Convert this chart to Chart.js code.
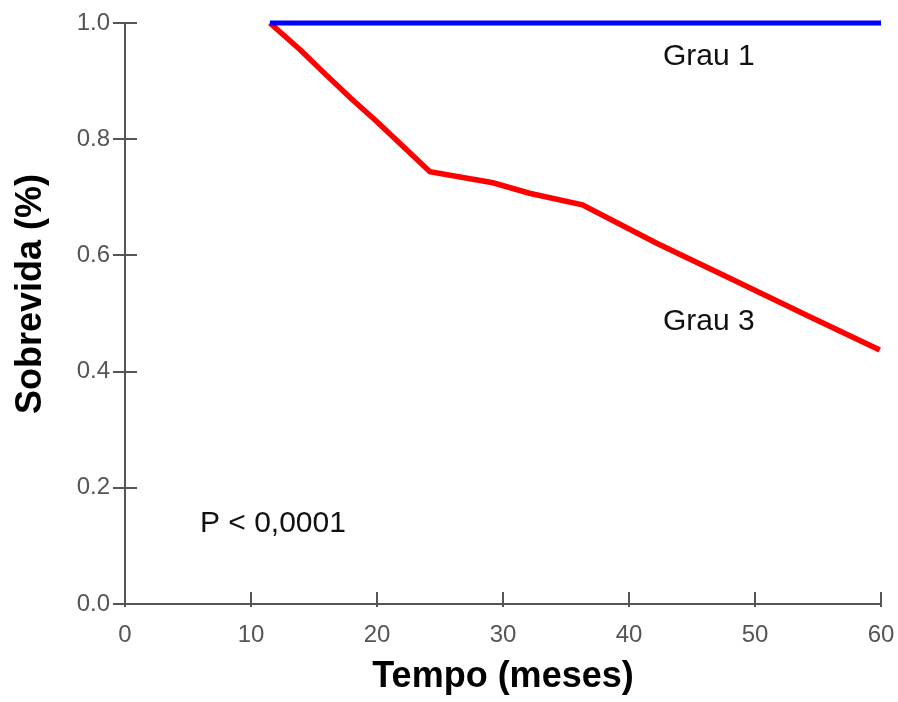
<!DOCTYPE html>
<html>
    <head>
        <title>Sobrevida por grau</title>
        <script src="https://cdn.jsdelivr.net/npm/chart.js"></script>
        <style>
            html, body {
                margin: 0;
                padding: 0;
                background: #fff;
            }
            #chart-container {
                width: 898px;
                height: 702px;
            }
        </style>
    </head>
    <body>
        <div id="chart-container">
            <canvas id="survivalChart"></canvas>
        </div>

        <script>
            // values
            const grau1Months = [11.5, 60];
            const grau1Survival = [1.0, 1.0];
            const grau3Months = [11.5, 13.9, 15.9, 17.9, 20.0, 22.1, 24.2, 29.2, 32.1, 36.3, 42.2, 47.8, 54.1, 59.9];
            const grau3Survival = [1.0, 0.954, 0.912, 0.871, 0.830, 0.787, 0.744, 0.725, 0.707, 0.687, 0.621, 0.563, 0.497, 0.437];
            const xTicks = [0, 10, 20, 30, 40, 50, 60];
            const yTicks = [0.0, 0.2, 0.4, 0.6, 0.8, 1.0];
            const notes = [
                { text: 'Grau 1', x: 42.7, y: 0.928 },
                { text: 'Grau 3', x: 42.7, y: 0.472 },
                { text: 'P < 0,0001', x: 5.95, y: 0.124 }
            ];

            const axisColor = '#555';
            const toPoints = (xs, ys) => xs.map((x, i) => ({ x: x, y: ys[i] }));

            // inner halves of the tick marks and the free text on the plot
            const extrasPlugin = {
                id: 'extras',
                afterDraw(chart) {
                    const { ctx, scales: { x, y } } = chart;
                    ctx.save();
                    ctx.strokeStyle = axisColor;
                    ctx.lineWidth = 2;
                    ctx.beginPath();
                    yTicks.forEach(v => {
                        const py = Math.round(y.getPixelForValue(v));
                        ctx.moveTo(x.left, py);
                        ctx.lineTo(x.left + 12, py);
                    });
                    xTicks.forEach(v => {
                        const px = Math.round(x.getPixelForValue(v));
                        ctx.moveTo(px, y.bottom);
                        ctx.lineTo(px, y.bottom - 12);
                    });
                    ctx.stroke();

                    ctx.fillStyle = '#111';
                    ctx.font = '30px "Liberation Sans", Arial, sans-serif';
                    ctx.textAlign = 'left';
                    ctx.textBaseline = 'alphabetic';
                    notes.forEach(n => {
                        ctx.fillText(n.text, x.getPixelForValue(n.x), y.getPixelForValue(n.y));
                    });

                    ctx.font = 'bold 36px "Liberation Sans", Arial, sans-serif';
                    ctx.fillStyle = '#000';
                    ctx.textAlign = 'center';
                    ctx.textBaseline = 'middle';
                    ctx.translate(31, 294);
                    ctx.rotate(-Math.PI / 2);
                    ctx.fillText('Sobrevida (%)', 0, 0);
                    ctx.restore();
                }
            };

            const ctx = document.getElementById('survivalChart').getContext('2d');
            const survivalChart = new Chart(ctx, {
                type: 'line',
                data: {
                    datasets: [{
                        label: 'Grau 1',
                        data: toPoints(grau1Months, grau1Survival),
                        borderColor: '#0000ff',
                        borderWidth: 5,
                        pointRadius: 0,
                        clip: false
                    }, {
                        label: 'Grau 3',
                        data: toPoints(grau3Months, grau3Survival),
                        borderColor: '#ff0000',
                        borderWidth: 5.5,
                        pointRadius: 0,
                        clip: false
                    }]
                },
                options: {
                    responsive: true,
                    maintainAspectRatio: false,
                    animation: false,
                    layout: {
                        padding: { top: 23, right: 17, left: 0, bottom: 0 }
                    },
                    scales: {
                        x: {
                            type: 'linear',
                            min: 0,
                            max: 60,
                            afterFit: scale => {
                                scale.height = 98;
                                scale.paddingLeft = 0;
                                scale.paddingRight = 0;
                            },
                            afterBuildTicks: scale => { scale.ticks = xTicks.map(v => ({ value: v })); },
                            border: { color: axisColor, width: 2 },
                            grid: {
                                drawOnChartArea: false,
                                color: axisColor,
                                lineWidth: 2,
                                tickLength: 3
                            },
                            ticks: {
                                color: '#555',
                                padding: 14,
                                maxRotation: 0,
                                font: { family: '"Liberation Sans", Arial, sans-serif', size: 24 }
                            },
                            title: {
                                display: true,
                                text: 'Tempo (meses)',
                                color: '#000',
                                padding: { top: 0, bottom: 3 },
                                font: { family: '"Liberation Sans", Arial, sans-serif', size: 36, weight: 'bold' }
                            }
                        },
                        y: {
                            min: 0,
                            max: 1,
                            afterFit: scale => {
                                scale.width = 125;
                                scale.paddingTop = 0;
                                scale.paddingBottom = 0;
                            },
                            afterBuildTicks: scale => { scale.ticks = yTicks.map(v => ({ value: v })); },
                            border: { color: axisColor, width: 2 },
                            grid: {
                                drawOnChartArea: false,
                                color: axisColor,
                                lineWidth: 2,
                                tickLength: 12
                            },
                            ticks: {
                                color: '#555',
                                padding: 3,
                                callback: v => v.toFixed(1),
                                font: { family: '"Liberation Sans", Arial, sans-serif', size: 24 }
                            }
                        }
                    },
                    plugins: {
                        legend: { display: false },
                        tooltip: { enabled: false }
                    }
                },
                plugins: [extrasPlugin]
            });
        </script>
    </body>
</html>
